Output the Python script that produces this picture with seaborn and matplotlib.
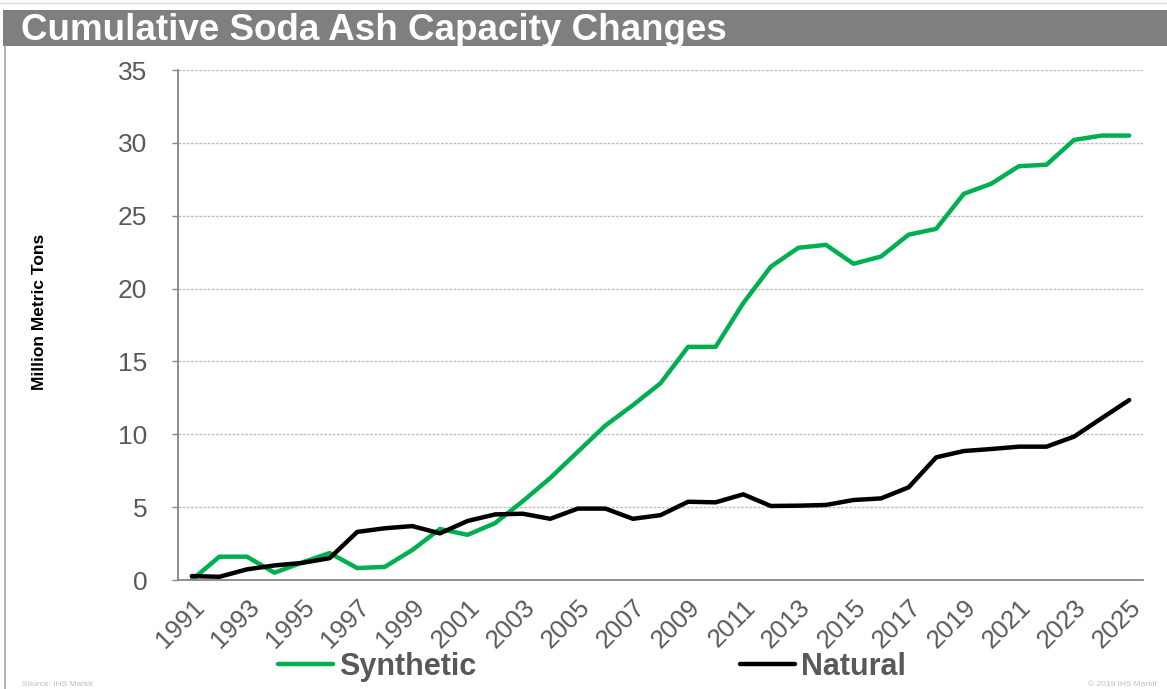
import matplotlib
matplotlib.use("Agg")
import matplotlib.pyplot as plt
import seaborn as sns
import pandas as pd
import numpy as np
from matplotlib.patches import Rectangle
from matplotlib.lines import Line2D

years = list(range(1991, 2026))
synthetic = [0.0, 1.6, 1.6, 0.5, 1.2, 1.85, 0.82, 0.9, 2.06, 3.5, 3.1, 3.9, 5.4, 7.0,
             8.8, 10.6, 12.0, 13.5, 16.0, 16.0, 19.0, 21.5, 22.8, 23.0, 21.7, 22.2,
             23.7, 24.1, 26.5, 27.2, 28.4, 28.5, 30.2, 30.5, 30.5]
natural = [0.27, 0.22, 0.73, 1.0, 1.17, 1.5, 3.3, 3.55, 3.7, 3.2, 4.05, 4.5, 4.55, 4.2,
           4.9, 4.9, 4.2, 4.45, 5.37, 5.33, 5.88, 5.08, 5.1, 5.15, 5.49, 5.6, 6.36,
           8.42, 8.85, 8.99, 9.15, 9.15, 9.84, 11.1, 12.35]
series_names = ["Synthetic", "Natural"]
colors = {"Synthetic": "#00B050", "Natural": "#000000"}
title = "Cumulative Soda Ash Capacity Changes"
ylabel = "Million Metric Tons"
yticks = [0, 5, 10, 15, 20, 25, 30, 35]

df = pd.DataFrame({
    "Year": years * 2,
    "Value": synthetic + natural,
    "Series": ["Synthetic"] * len(years) + ["Natural"] * len(years),
})

sns.set_style("white")
plt.rcParams["font.family"] = ["Liberation Sans", "DejaVu Sans"]

W, H = 1167, 689
fig = plt.figure(figsize=(W / 100, H / 100), dpi=100)
fig.patch.set_facecolor("white")

# title bar
fig.add_artist(Rectangle((3 / W, 1 - 46 / H), 1 - 3 / W, 36 / H, transform=fig.transFigure,
                         facecolor="#7f7f7f", edgecolor="none", zorder=0))
fig.add_artist(Line2D([0 / W, 1], [1 - 3 / H, 1 - 3 / H], transform=fig.transFigure,
                      color="#d9d9d9", lw=1))
fig.add_artist(Line2D([5 / W, 5 / W], [0, 1 - 46 / H], transform=fig.transFigure,
                      color="#a6a6a6", lw=1.2))
fig.text(21 / W, 1 - 30 / H, title, color="white", fontsize=26.5, fontweight="bold",
         va="center", ha="left")

ax = fig.add_axes([178 / W, 1 - 580 / H, (1143 - 178) / W, (580 - 70) / H])
sns.lineplot(data=df, x="Year", y="Value", hue="Series", hue_order=series_names,
             palette=colors, linewidth=3.2, ax=ax, legend=False, sort=False)

ax.set_xlim(years[0] - 0.5, years[-1] + 0.5)
ax.set_ylim(0, 35)
ax.set_yticks(yticks)
ax.set_xticks(years[::2])
ax.set_xticklabels([str(y) for y in years[::2]], rotation=45, ha="right",
                   rotation_mode="anchor")
ax.set_xticks(np.arange(years[0] - 0.5, years[-1] + 1.0, 1.0), minor=True)
ax.tick_params(axis="x", which="major", length=0, pad=11, labelsize=18.5, labelcolor="#595959")
ax.tick_params(axis="x", which="minor", length=5, width=1, color="#868686", direction="out")
ax.tick_params(axis="y", length=4, width=1, color="#868686", direction="out", pad=18,
               labelsize=19, labelcolor="#595959", left=True)
ax.yaxis.grid(True, color="#bfbfbf", linestyle=(0, (2, 1)), linewidth=1)
ax.xaxis.grid(False)
for s in ["top", "right"]:
    ax.spines[s].set_visible(False)
for s in ["left", "bottom"]:
    ax.spines[s].set_color("#868686")
    ax.spines[s].set_linewidth(1.3)
ax.set_xlabel("")
ax.set_ylabel("")
fig.text(40 / W, 1 - 312 / H, ylabel, rotation=90, va="center", ha="center",
         fontsize=12.5, fontweight="bold", color="black",
         family=["Liberation Sans Narrow", "Liberation Sans", "DejaVu Sans"])

handles = [Line2D([], [], color=colors[n], lw=3.2) for n in series_names]
leg = fig.legend(handles, series_names, loc="center", bbox_to_anchor=(592 / W, 1 - 667 / H),
                 ncol=2, frameon=False, handlelength=1.8, handletextpad=0.2,
                 columnspacing=8.6, prop={"weight": "bold", "size": 22})
for t in leg.get_texts():
    t.set_color("#595959")

fig.text(22 / W, 1 - 684 / H, "Source: IHS Markit", fontsize=6, color="#bfbfbf",
         va="center", ha="left")
fig.text(1157 / W, 1 - 684 / H, "\u00a9 2019 IHS Markit", fontsize=6, color="#bfbfbf",
         va="center", ha="right")

fig.savefig("out.png", dpi=100, facecolor="white")
